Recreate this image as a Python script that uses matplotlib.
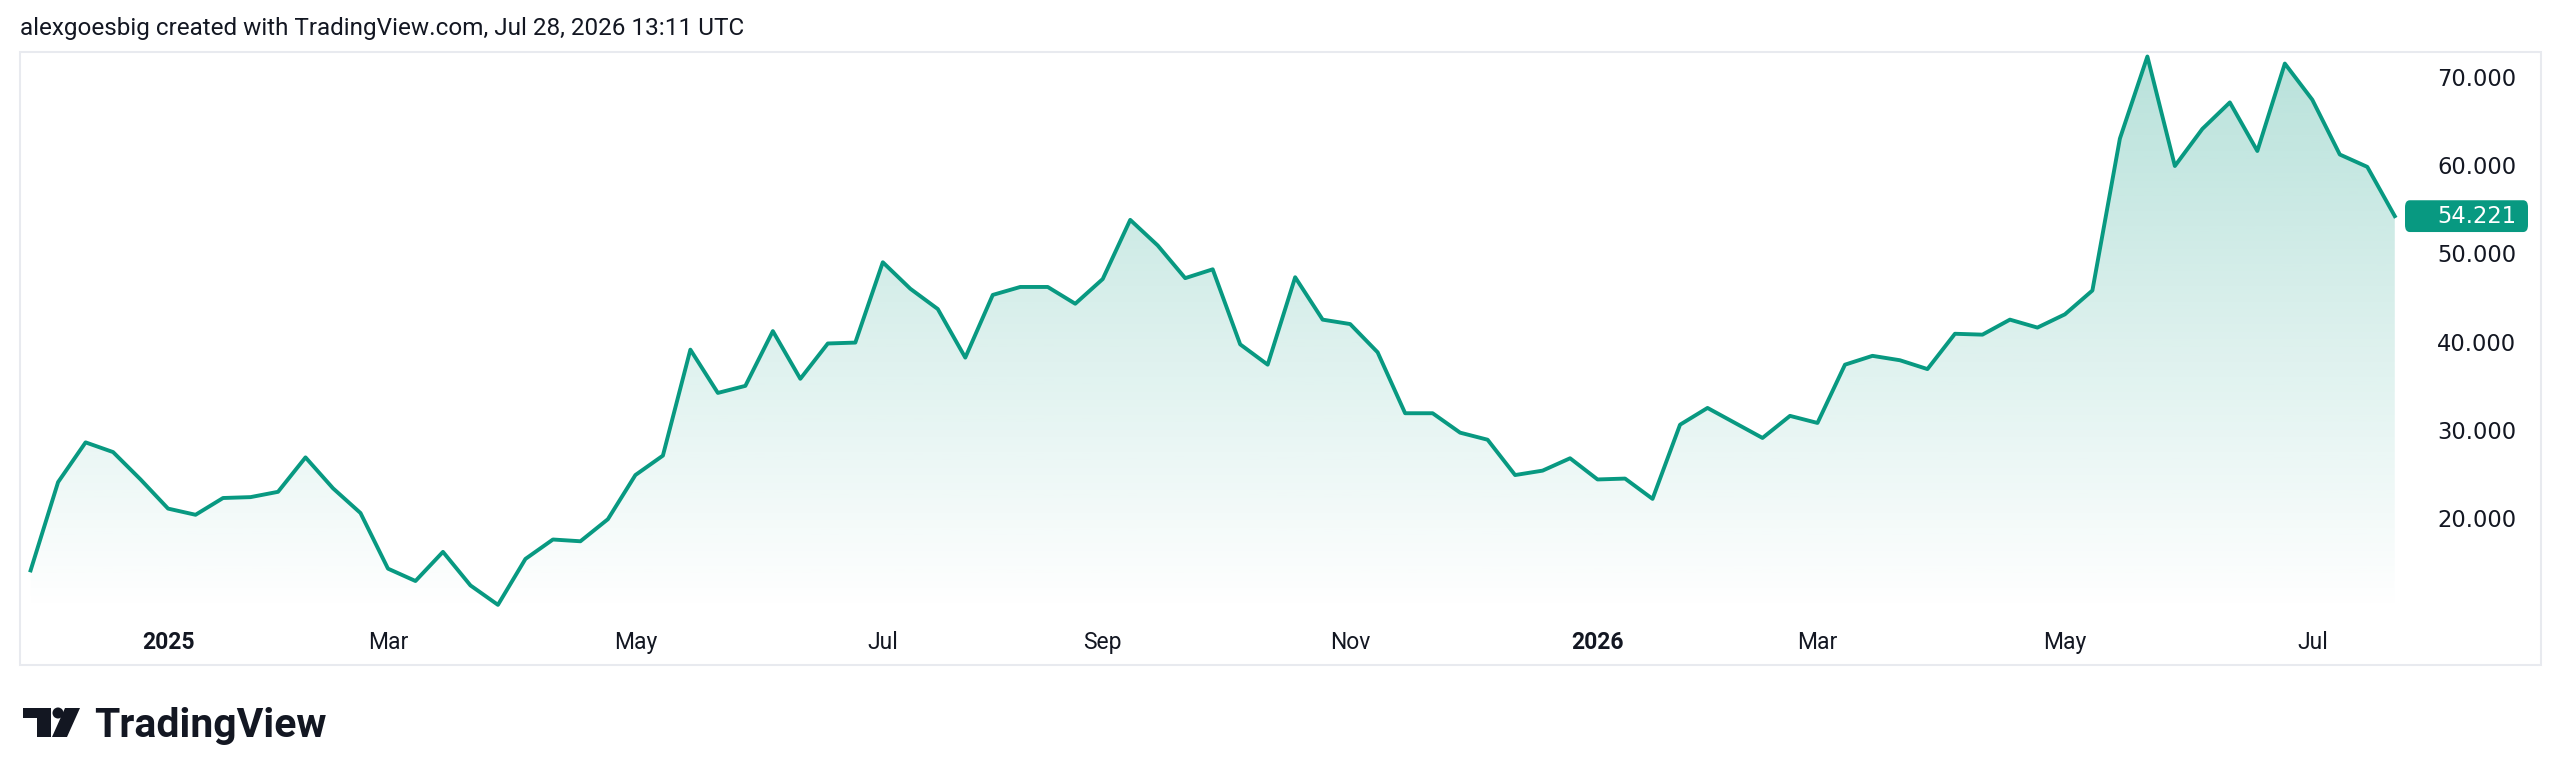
import numpy as np
import pandas as pd
import matplotlib.pyplot as plt
import matplotlib.dates as mdates
import matplotlib.transforms as mtransforms
from matplotlib.patches import Rectangle, Circle, Polygon, FancyBboxPatch

# Weekly closes (first bar Mon 2 Dec 2024, last bar Mon 27 Jul 2026)
start_date = '2024-12-02'
closes = [14.1, 24.1, 28.6, 27.5, 24.4, 21.1, 20.4, 22.3, 22.4, 23.0,
          26.9, 23.4, 20.6, 14.3, 12.9, 16.2, 12.4, 10.2, 15.4, 17.6,
          17.4, 19.9, 24.9, 27.1, 39.1, 34.2, 35.0, 41.2, 35.8, 39.8,
          39.9, 49.0, 46.0, 43.7, 38.2, 45.3, 46.2, 46.2, 44.3, 47.1,
          53.8, 50.9, 47.2, 48.2, 39.7, 37.4, 47.3, 42.5, 42.0, 38.8,
          31.9, 31.9, 29.7, 28.9, 24.9, 25.4, 26.8, 24.4, 24.5, 22.2,
          30.6, 32.5, 30.8, 29.1, 31.6, 30.8, 37.4, 38.4, 37.9, 36.9,
          40.9, 40.8, 42.5, 41.6, 43.1, 45.8, 63.0, 72.3, 59.9, 64.1,
          67.1, 61.6, 71.5, 67.4, 61.2, 59.8, 54.221]
last_price = 54.221

tick_dates = ['2025-01-06', '2025-03-03', '2025-05-05', '2025-07-07', '2025-09-01',
              '2025-11-03', '2026-01-05', '2026-03-02', '2026-05-04', '2026-07-06']
tick_labels = ['2025', 'Mar', 'May', 'Jul', 'Sep', 'Nov', '2026', 'Mar', 'May', 'Jul']
year_labels = ['2025', '2026']

price_ticks = [20, 30, 40, 50, 60, 70]

header = 'alexgoesbig created with TradingView.com, Jul 28, 2026 13:11 UTC'

LINE_COLOR = '#089981'
TEXT_COLOR = '#131722'
W, H = 2560, 781

dates = pd.date_range(start_date, periods=len(closes), freq='7D')

fig = plt.figure(figsize=(W / 100, H / 100), dpi=100)
fig.patch.set_facecolor('white')

# pixel (from top-left) -> figure transform
px = mtransforms.Affine2D().scale(1 / W, -1 / H).translate(0, 1) + fig.transFigure

# outer chart frame
fig.patches.append(Rectangle((20, 52), 2521, 613, transform=px, fill=False,
                             edgecolor='#e8eaef', linewidth=1.5))

ax = fig.add_axes([20 / W, 1 - 612 / H, (2405 - 20) / W, (612 - 52) / H])
ax.set_facecolor('none')
for s in ax.spines.values():
    s.set_visible(False)

ax.plot(dates, closes, color=LINE_COLOR, linewidth=2.8, solid_joinstyle='round', zorder=3)

base = mdates.date2num(np.datetime64('2025-01-06'))
x0, x1 = base - 37.7, base + 569.6
y0, y1 = 9.39, 72.81

# gradient area under the line
poly = ax.fill_between(dates, closes, y0, facecolor='none', edgecolor='none')
alpha = np.linspace(0.29, 0.0, 256)
grad = np.zeros((256, 1, 4))
grad[..., 0] = 8 / 255
grad[..., 1] = 153 / 255
grad[..., 2] = 129 / 255
grad[..., 3] = alpha[:, None]
im = ax.imshow(grad, extent=[x0, x1, y0, y1], aspect='auto', origin='upper', zorder=1)
im.set_clip_path(poly.get_paths()[0], transform=ax.transData)

ax.set_xlim(x0, x1)
ax.set_ylim(y0, y1)

# time axis
ax.set_xticks([mdates.date2num(np.datetime64(d)) for d in tick_dates])
ax.set_xticklabels(tick_labels)
ax.tick_params(axis='x', length=0, pad=14, labelsize=16.5, labelcolor=TEXT_COLOR)
for lab in ax.get_xticklabels():
    lab.set_fontfamily('Roboto')
    if lab.get_text() in year_labels:
        lab.set_fontweight('bold')

# price axis
ax.yaxis.tick_right()
ax.set_yticks(price_ticks)
ax.set_yticklabels([f'{v:.3f}' for v in price_ticks])
ax.tick_params(axis='y', length=0, pad=23, labelsize=16.3, labelcolor=TEXT_COLOR)
for lab in ax.get_yticklabels():
    lab.set_fontfamily('DejaVu Sans')

# last price label
blend = mtransforms.blended_transform_factory(ax.transAxes, ax.transData)
ax.add_patch(FancyBboxPatch((1.0, last_price - 1.8), (2528 - 2405) / (2405 - 20), 3.6,
                            boxstyle='round,pad=0,rounding_size=0.002',
                            mutation_aspect=400,
                            transform=blend, facecolor=LINE_COLOR, edgecolor='none',
                            clip_on=False))
ax.text(1 + 32 / (2405 - 20), last_price, f'{last_price:.3f}', transform=blend,
        ha='left', va='center', color='white', fontsize=16.3, family='DejaVu Sans')

# header
fig.text(20 / W, 1 - 29 / H, header, ha='left', va='center', fontsize=17.5,
         color=TEXT_COLOR, family='Roboto')

# TradingView logo
fig.patches.append(Polygon([(23, 708), (51, 708), (51, 737), (37, 737), (37, 718), (23, 718)],
                           closed=True, transform=px, facecolor=TEXT_COLOR, edgecolor='none'))
fig.patches.append(Circle((58, 713), 5.5, transform=px, facecolor=TEXT_COLOR, edgecolor='none'))
fig.patches.append(Polygon([(65, 708), (80, 708), (67, 737), (52, 737)],
                           closed=True, transform=px, facecolor=TEXT_COLOR, edgecolor='none'))
fig.text(94 / W, 1 - 737 / H, 'TradingView', ha='left', va='baseline', fontsize=29.4,
         fontweight='bold', color=TEXT_COLOR, family='Roboto')

fig.savefig('out.png', dpi=100, facecolor='white')
